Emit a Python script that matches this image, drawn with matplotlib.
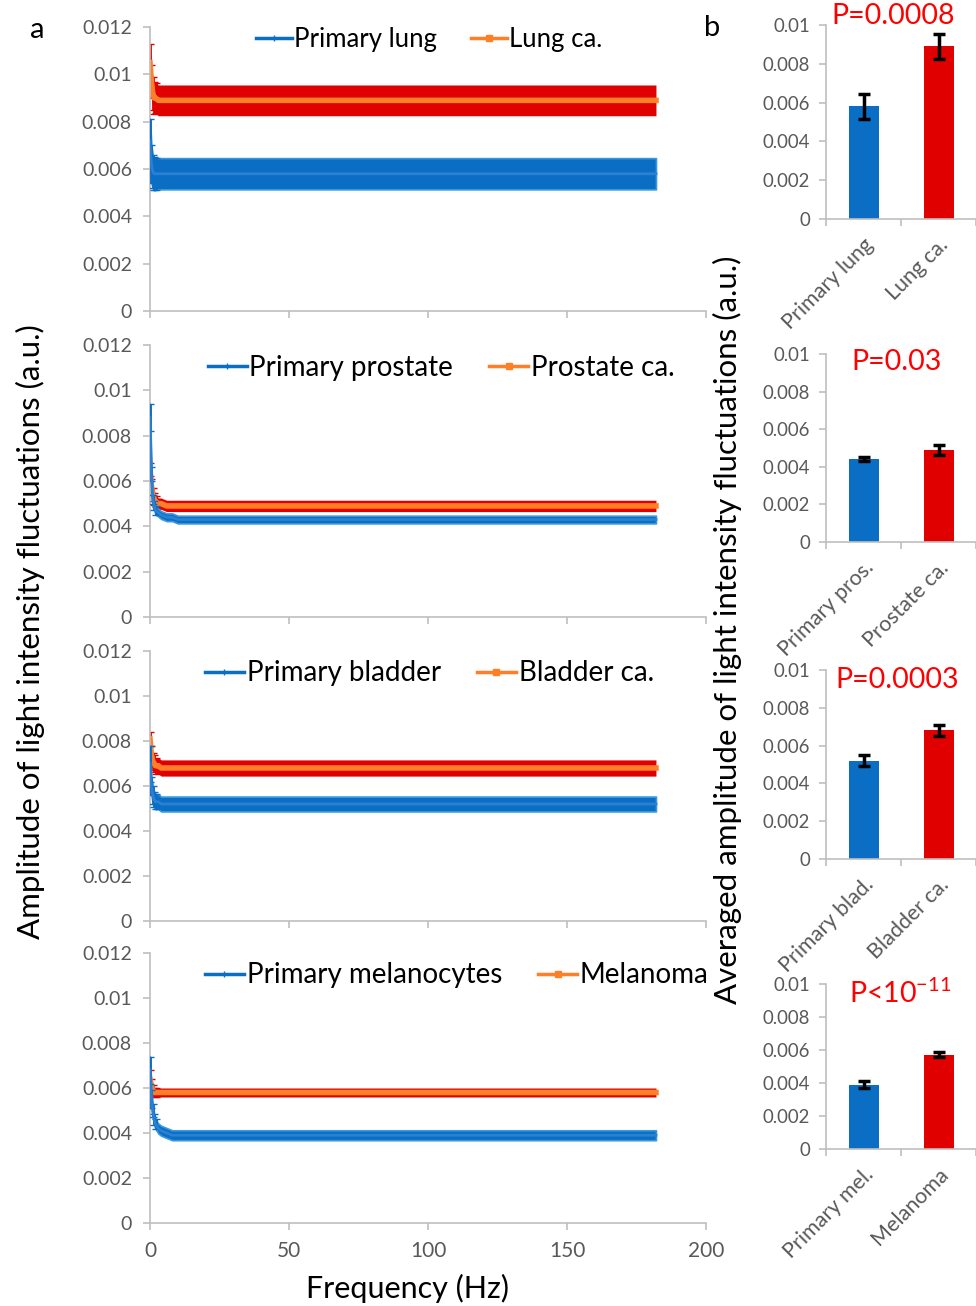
import matplotlib
matplotlib.use('Agg')
import matplotlib.pyplot as plt
from matplotlib.lines import Line2D

plt.rcParams['font.family'] = ['Lato', 'DejaVu Sans']

# frequency points (Hz)
freq = [0, 0.5, 1, 1.5, 2, 3, 4, 6, 8, 10, 20, 40, 60, 80, 100, 120, 140, 160, 182]

lung_prim = [0.0072, 0.0062, 0.0059, 0.0058, 0.0058, 0.0058, 0.0058, 0.0058, 0.0058, 0.0058,
             0.0058, 0.0058, 0.0058, 0.0058, 0.0058, 0.0058, 0.0058, 0.0058, 0.0058]
lung_prim_err = [0.0009, 0.0008, 0.0007, 0.0007, 0.00068, 0.00066, 0.00066, 0.00066, 0.00066, 0.00066,
                 0.00066, 0.00066, 0.00066, 0.00066, 0.00066, 0.00066, 0.00066, 0.00066, 0.00066]
lung_ca = [0.0105, 0.0097, 0.0092, 0.0090, 0.0090, 0.0089, 0.0089, 0.0089, 0.0089, 0.0089,
           0.0089, 0.0089, 0.0089, 0.0089, 0.0089, 0.0089, 0.0089, 0.0089, 0.0089]
lung_ca_err = [0.0008, 0.0007, 0.0007, 0.00066, 0.00065, 0.00065, 0.00065, 0.00065, 0.00065, 0.00065,
               0.00065, 0.00065, 0.00065, 0.00065, 0.00065, 0.00065, 0.00065, 0.00065, 0.00065]

pros_prim = [0.0088, 0.0063, 0.0052, 0.0049, 0.0047, 0.0046, 0.0045, 0.0044, 0.0044, 0.0043,
             0.0043, 0.0043, 0.0043, 0.0043, 0.0043, 0.0043, 0.0043, 0.0043, 0.0043]
pros_prim_err = [0.0006, 0.0003, 0.0002, 0.0002, 0.00018, 0.00017, 0.00017, 0.00017, 0.00017, 0.00017,
                 0.00017, 0.00017, 0.00017, 0.00017, 0.00017, 0.00017, 0.00017, 0.00017, 0.00017]
pros_ca = [0.0065, 0.0058, 0.0054, 0.0052, 0.0051, 0.0050, 0.0050, 0.0049, 0.0049, 0.0049,
           0.0049, 0.0049, 0.0049, 0.0049, 0.0049, 0.0049, 0.0049, 0.0049, 0.0049]
pros_ca_err = [0.0003, 0.0003, 0.00028, 0.00026, 0.00025, 0.00025, 0.00025, 0.00025, 0.00025, 0.00025,
               0.00025, 0.00025, 0.00025, 0.00025, 0.00025, 0.00025, 0.00025, 0.00025, 0.00025]

blad_prim = [0.0070, 0.0060, 0.0056, 0.0054, 0.0053, 0.0053, 0.0052, 0.0052, 0.0052, 0.0052,
             0.0052, 0.0052, 0.0052, 0.0052, 0.0052, 0.0052, 0.0052, 0.0052, 0.0052]
blad_prim_err = [0.0008, 0.0004, 0.0004, 0.00035, 0.00034, 0.00033, 0.00033, 0.00033, 0.00033, 0.00033,
                 0.00033, 0.00033, 0.00033, 0.00033, 0.00033, 0.00033, 0.00033, 0.00033, 0.00033]
blad_ca = [0.0081, 0.0074, 0.0071, 0.0070, 0.0069, 0.0069, 0.0068, 0.0068, 0.0068, 0.0068,
           0.0068, 0.0068, 0.0068, 0.0068, 0.0068, 0.0068, 0.0068, 0.0068, 0.0068]
blad_ca_err = [0.0003, 0.0004, 0.00038, 0.00036, 0.00036, 0.00036, 0.00036, 0.00036, 0.00036, 0.00036,
               0.00036, 0.00036, 0.00036, 0.00036, 0.00036, 0.00036, 0.00036, 0.00036, 0.00036]

mel_prim = [0.0068, 0.0055, 0.0050, 0.0046, 0.0044, 0.0042, 0.0041, 0.0040, 0.0039, 0.0039,
            0.0039, 0.0039, 0.0039, 0.0039, 0.0039, 0.0039, 0.0039, 0.0039, 0.0039]
mel_prim_err = [0.0006, 0.0004, 0.0003, 0.00025, 0.00022, 0.00022, 0.00022, 0.00022, 0.00022, 0.00022,
                0.00022, 0.00022, 0.00022, 0.00022, 0.00022, 0.00022, 0.00022, 0.00022, 0.00022]
mel_ca = [0.0064, 0.0061, 0.0059, 0.0058, 0.0058, 0.0058, 0.0058, 0.0058, 0.0058, 0.0058,
          0.0058, 0.0058, 0.0058, 0.0058, 0.0058, 0.0058, 0.0058, 0.0058, 0.0058]
mel_ca_err = [0.0004, 0.0003, 0.00025, 0.0002, 0.0002, 0.0002, 0.0002, 0.0002, 0.0002, 0.0002,
              0.0002, 0.0002, 0.0002, 0.0002, 0.0002, 0.0002, 0.0002, 0.0002, 0.0002]

spectra = [
    (lung_prim, lung_prim_err, lung_ca, lung_ca_err, 'Primary lung', 'Lung ca.'),
    (pros_prim, pros_prim_err, pros_ca, pros_ca_err, 'Primary prostate', 'Prostate ca.'),
    (blad_prim, blad_prim_err, blad_ca, blad_ca_err, 'Primary bladder', 'Bladder ca.'),
    (mel_prim, mel_prim_err, mel_ca, mel_ca_err, 'Primary melanocytes', 'Melanoma'),
]

# averaged amplitudes (panel b)
bar_labels = [['Primary lung', 'Lung ca.'], ['Primary pros.', 'Prostate ca.'],
              ['Primary blad.', 'Bladder ca.'], ['Primary mel.', 'Melanoma']]
bar_means = [[0.0058, 0.0089], [0.0044, 0.0049], [0.0052, 0.0068], [0.0039, 0.0057]]
bar_errs = [[0.00065, 0.00065], [0.0001, 0.00025], [0.0003, 0.0003], [0.0002, 0.00015]]
p_texts = ['P=0.0008', 'P=0.03', 'P=0.0003', r'P<10$^{\mathregular{-11}}$']

BLUE = '#2A80D2'
BLUE_ERR = '#0B6EC5'
BLUE_EDGE = '#3A98DE'
ORANGE = '#FF7F27'
RED = '#E00000'
GRAY = '#595959'
SPINE = '#BFBFBF'

W, H = 976, 1306
fig = plt.figure(figsize=(W / 100, H / 100), dpi=100)

left_rows = [(27, 311), (345, 617), (651, 921), (953, 1223)]
right_rows = [(25, 219), (354, 542), (670, 859), (984, 1149)]
leg_x = [0.19, 0.104, 0.099, 0.099]
leg_y = [1.0, 0.965, 0.965, 0.965]
leg_size = [18.5, 20, 20, 20]
p_offset = [-9, 8, 10, 9]        # pixels below the top of each bar panel
p_center = [893, 897, 897, 900]  # pixel x of each P value


def style_axis(ax):
    for s in ['top', 'right']:
        ax.spines[s].set_visible(False)
    for s in ['left', 'bottom']:
        ax.spines[s].set_color(SPINE)
        ax.spines[s].set_linewidth(1.2)
    ax.tick_params(colors=SPINE, labelcolor=GRAY, length=5, width=1.2)


for i, (prim, prim_err, ca, ca_err, lab1, lab2) in enumerate(spectra):
    top, bot = left_rows[i]
    ax = fig.add_axes([150 / W, 1 - bot / H, 556 / W, (bot - top) / H])
    lo1 = [m - e for m, e in zip(prim, prim_err)]
    hi1 = [m + e for m, e in zip(prim, prim_err)]
    lo2 = [m - e for m, e in zip(ca, ca_err)]
    hi2 = [m + e for m, e in zip(ca, ca_err)]
    ax.fill_between(freq, lo2, hi2, color=RED, lw=0, zorder=2)
    ax.fill_between(freq, lo1, hi1, facecolor=BLUE_ERR, edgecolor=BLUE_EDGE, lw=1.2, zorder=3)
    n0 = 5
    ax.errorbar(freq[:n0], ca[:n0], yerr=ca_err[:n0], color=ORANGE, ecolor=RED,
                elinewidth=2, capsize=3, lw=0, zorder=2)
    ax.errorbar(freq[:n0], prim[:n0], yerr=prim_err[:n0], color=BLUE, ecolor=BLUE_ERR,
                elinewidth=2, capsize=3, lw=0, zorder=3)
    ax.plot(freq, ca, color=ORANGE, lw=4, zorder=2.5)
    ax.plot(freq, prim, color=BLUE, lw=2, zorder=3.5)
    ax.set_xlim(0, 200)
    ax.set_ylim(0, 0.012)
    ax.set_yticks([0, 0.002, 0.004, 0.006, 0.008, 0.01, 0.012])
    ax.set_yticklabels(['0', '0.002', '0.004', '0.006', '0.008', '0.01', '0.012'], fontsize=14)
    ax.set_xticks([0, 50, 100, 150, 200])
    if i == 3:
        ax.set_xticklabels(['0', '50', '100', '150', '200'], fontsize=15)
    else:
        ax.set_xticklabels([])
    style_axis(ax)
    ax.tick_params(axis='y', pad=8)
    ax.tick_params(axis='x', pad=8)
    handles = [Line2D([], [], color=BLUE_ERR, lw=2.5, marker='+', ms=4),
               Line2D([], [], color=ORANGE, lw=2.5, marker='s', ms=4)]
    ax.legend(handles, [lab1, lab2], loc='upper left', bbox_to_anchor=(leg_x[i], leg_y[i]),
              ncol=2, frameon=False, fontsize=leg_size[i], handlelength=1.4, handletextpad=0.1,
              columnspacing=1.3, borderpad=0, borderaxespad=0)

for i in range(4):
    top, bot = right_rows[i]
    ax = fig.add_axes([826 / W, 1 - bot / H, 150 / W, (bot - top) / H])
    ax.bar([0, 1], bar_means[i], width=0.4, color=[BLUE_ERR, RED], zorder=2)
    ax.errorbar([0, 1], bar_means[i], yerr=bar_errs[i], fmt='none', ecolor='black',
                elinewidth=2.5, capsize=4, capthick=2.5, zorder=3)
    ax.set_xlim(-0.5, 1.5)
    ax.set_ylim(0, 0.01)
    ax.set_yticks([0, 0.002, 0.004, 0.006, 0.008, 0.01])
    ax.set_yticklabels(['0', '0.002', '0.004', '0.006', '0.008', '0.01'], fontsize=13.4)
    ax.set_xticks([0, 1])
    ax.set_xticklabels(bar_labels[i], rotation=45, ha='right', rotation_mode='anchor', fontsize=15.5)
    ax.set_xticks([-0.5, 0.5, 1.5], minor=True)
    style_axis(ax)
    ax.tick_params(axis='y', pad=6.5)
    ax.tick_params(axis='x', which='major', length=0, pad=11)
    ax.tick_params(axis='x', which='minor', length=5, color=SPINE, width=1.2)
    fig.text(p_center[i] / W, 1 - (top + p_offset[i]) / H, p_texts[i],
             color='red', fontsize=20.5, ha='center', va='center')

fig.text(30 / W, 1 - 632 / H, 'Amplitude of light intensity fluctuations (a.u.)',
         rotation=90, ha='center', va='center', fontsize=22.5)
fig.text(727 / W, 1 - 630 / H, 'Averaged amplitude of light intensity fluctuations (a.u.)',
         rotation=90, ha='center', va='center', fontsize=22.5)
fig.text(407 / W, 1 - 1288 / H, 'Frequency (Hz)', ha='center', va='center', fontsize=22)
fig.text(37 / W, 1 - 30 / H, 'a', ha='center', va='center', fontsize=21)
fig.text(712 / W, 1 - 28 / H, 'b', ha='center', va='center', fontsize=21)

fig.savefig('out.png', dpi=100)
